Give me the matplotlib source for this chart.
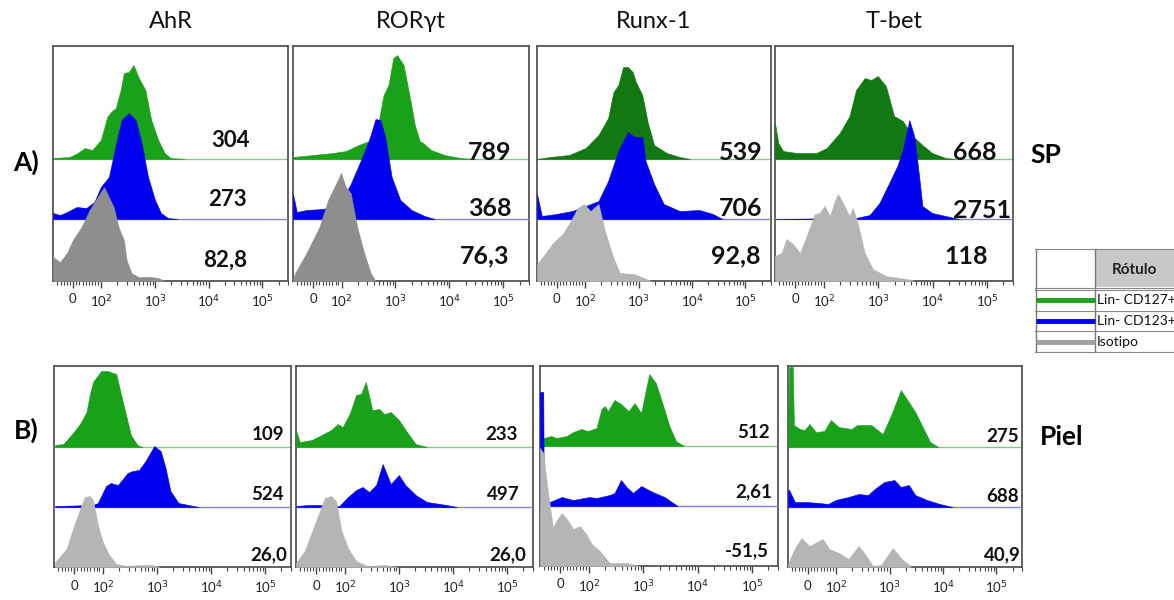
import numpy as np
import matplotlib
matplotlib.use("Agg")
import matplotlib.pyplot as plt

plt.rcParams['font.family'] = ['Lato', 'DejaVu Sans']

# ---- labels ----
markers = ["AhR", "RORγt", "Runx-1", "T-bet"]
row_tags = ["A)", "B)"]
tissues = ["SP", "Piel"]
series = ["Lin- CD127+", "Lin- CD123+", "Isotipo"]

# MFI per panel, order: CD127+, CD123+, isotipo
mfi_sp = [["304", "273", "82,8"], ["789", "368", "76,3"],
          ["539", "706", "92,8"], ["668", "2751", "118"]]
mfi_piel = [["109", "524", "26,0"], ["233", "497", "26,0"],
            ["512", "2,61", "-51,5"], ["275", "688", "40,9"]]

# ---- histograms: x = log10 display channel, y = normalised counts ----
# SP row
ahr_sp_127_x = [1.10, 1.41, 1.56, 1.69, 1.83, 1.99, 2.11, 2.18, 2.27, 2.36, 2.42, 2.51, 2.60, 2.69, 2.82, 2.93, 3.06, 3.18, 3.29, 3.55]
ahr_sp_127_y = [1, 2, 6, 11, 9, 19, 42, 47, 51, 69, 86, 87, 94, 82, 69, 39, 19, 6, 1, 0]
ahr_sp_123_x = [1.10, 1.23, 1.36, 1.54, 1.72, 1.87, 1.99, 2.14, 2.29, 2.38, 2.51, 2.64, 2.75, 2.87, 3.00, 3.11, 3.24, 3.42]
ahr_sp_123_y = [6, 4, 7, 12, 11, 17, 32, 42, 79, 99, 106, 99, 76, 42, 19, 6, 1, 0]
ahr_sp_iso_x = [1.10, 1.23, 1.36, 1.47, 1.63, 1.78, 1.90, 1.99, 2.05, 2.14, 2.23, 2.32, 2.42, 2.47, 2.56, 2.69, 2.93, 3.06, 3.18]
ahr_sp_iso_y = [24, 19, 28, 41, 54, 71, 81, 89, 94, 84, 74, 54, 41, 21, 8, 4, 4, 3, 0]

ror_sp_127_x = [1.10, 1.47, 1.84, 2.08, 2.32, 2.51, 2.69, 2.78, 2.87, 2.96, 3.03, 3.15, 3.27, 3.36, 3.45, 3.51, 3.66, 3.91, 4.21, 4.50]
ror_sp_127_y = [2, 4, 6, 8, 14, 18, 38, 64, 74, 101, 104, 94, 61, 34, 18, 16, 9, 4, 1, 0]
ror_sp_123_x = [1.10, 1.17, 1.35, 1.65, 1.96, 2.17, 2.36, 2.51, 2.63, 2.72, 2.81, 2.93, 3.09, 3.30, 3.54, 3.73]
ror_sp_123_y = [25, 7, 9, 10, 14, 35, 59, 79, 100, 99, 82, 42, 19, 9, 3, 0]
ror_sp_iso_x = [1.10, 1.14, 1.35, 1.59, 1.75, 1.87, 1.99, 2.08, 2.17, 2.29, 2.42, 2.54, 2.63]
ror_sp_iso_y = [2, 8, 28, 54, 81, 94, 108, 94, 88, 54, 28, 8, 0]

runx_sp_127_x = [1.10, 1.34, 1.70, 2.01, 2.25, 2.43, 2.53, 2.62, 2.71, 2.80, 2.89, 2.95, 3.07, 3.17, 3.29, 3.53, 3.77, 3.96]
runx_sp_127_y = [0, 2, 4, 11, 24, 41, 67, 74, 92, 92, 87, 77, 64, 37, 14, 6, 2, 0]
runx_sp_123_x = [1.10, 1.19, 1.46, 1.76, 2.01, 2.25, 2.43, 2.62, 2.80, 2.92, 3.07, 3.13, 3.29, 3.47, 3.77, 4.14, 4.39, 4.57]
runx_sp_123_y = [25, 3, 5, 8, 13, 18, 38, 68, 87, 82, 82, 58, 35, 15, 8, 9, 5, 0]
runx_sp_iso_x = [1.10, 1.25, 1.40, 1.58, 1.73, 1.86, 1.98, 2.10, 2.25, 2.37, 2.53, 2.65, 2.92, 3.23]
runx_sp_iso_y = [17, 27, 38, 47, 60, 73, 77, 70, 77, 50, 23, 8, 7, 0]

tbet_sp_127_x = [1.10, 1.16, 1.25, 1.50, 1.86, 2.05, 2.29, 2.47, 2.59, 2.75, 2.87, 2.99, 3.14, 3.29, 3.45, 3.63, 3.81, 3.99, 4.24, 4.42]
tbet_sp_127_y = [36, 16, 8, 6, 6, 11, 26, 43, 69, 81, 79, 83, 73, 43, 38, 23, 14, 6, 1, 0]
tbet_sp_123_x = [1.10, 2.59, 2.84, 3.02, 3.20, 3.35, 3.45, 3.57, 3.66, 3.75, 3.81, 3.99, 4.24, 4.48]
tbet_sp_123_y = [0, 1, 4, 16, 36, 53, 69, 99, 83, 43, 13, 6, 3, 0]
tbet_sp_iso_x = [1.10, 1.22, 1.31, 1.43, 1.56, 1.68, 1.83, 1.92, 2.01, 2.11, 2.20, 2.26, 2.35, 2.47, 2.53, 2.62, 2.75, 2.90, 3.14, 3.63]
tbet_sp_iso_y = [25, 28, 42, 37, 28, 45, 67, 68, 75, 65, 80, 87, 78, 65, 73, 58, 28, 12, 5, 1]

# Piel row
ahr_pi_127_x = [1.12, 1.27, 1.42, 1.58, 1.70, 1.76, 1.82, 1.97, 2.09, 2.25, 2.34, 2.43, 2.52, 2.64, 2.73]
ahr_pi_127_y = [2, 3, 12, 23, 35, 52, 65, 76, 76, 73, 52, 32, 12, 2, 0]
ahr_pi_123_x = [1.12, 1.82, 1.91, 2.06, 2.15, 2.28, 2.46, 2.55, 2.67, 2.79, 2.95, 3.07, 3.16, 3.25, 3.40, 3.77]
ahr_pi_123_y = [1, 2, 4, 21, 24, 22, 34, 36, 37, 46, 61, 56, 39, 16, 4, 0]
ahr_pi_iso_x = [1.12, 1.33, 1.45, 1.58, 1.67, 1.76, 1.82, 1.91, 2.00, 2.12, 2.25, 2.43, 2.67, 2.92, 3.04]
ahr_pi_iso_y = [5, 18, 38, 58, 70, 71, 67, 42, 25, 12, 3, 1, 2, 2, 0]

ror_pi_127_x = [1.10, 1.17, 1.39, 1.57, 1.75, 1.87, 1.96, 2.09, 2.21, 2.30, 2.39, 2.51, 2.64, 2.73, 2.85, 3.00, 3.15, 3.31, 3.52]
ror_pi_127_y = [17, 5, 7, 12, 17, 23, 20, 33, 52, 53, 65, 37, 38, 33, 35, 27, 15, 3, 0]
ror_pi_123_x = [1.10, 1.32, 1.57, 1.90, 2.06, 2.21, 2.33, 2.45, 2.58, 2.70, 2.85, 3.00, 3.12, 3.31, 3.52, 3.88, 4.07]
ror_pi_123_y = [1, 2, 2, 1, 10, 17, 20, 15, 22, 43, 23, 32, 22, 12, 5, 2, 0]
ror_pi_iso_x = [1.10, 1.26, 1.42, 1.54, 1.63, 1.75, 1.84, 1.94, 2.06, 2.21, 2.42, 2.73, 2.97]
ror_pi_iso_y = [4, 16, 39, 56, 69, 71, 66, 36, 19, 6, 1, 2, 0]

runx_pi_127_x = [1.10, 1.16, 1.31, 1.40, 1.59, 1.71, 1.86, 1.98, 2.14, 2.23, 2.29, 2.35, 2.47, 2.59, 2.73, 2.84, 2.96, 3.05, 3.11, 3.23, 3.35, 3.48, 3.60, 3.75]
runx_pi_127_y = [6, 8, 10, 8, 10, 14, 17, 15, 18, 37, 40, 35, 46, 42, 35, 43, 33, 57, 72, 63, 43, 20, 5, 0]
runx_pi_123_x = [1.10, 1.16, 1.17, 1.28, 1.50, 1.71, 2.01, 2.14, 2.38, 2.47, 2.59, 2.69, 2.81, 2.96, 3.17, 3.39, 3.63]
runx_pi_123_y = [114, 114, 4, 4, 9, 6, 9, 8, 11, 13, 26, 19, 13, 20, 14, 9, 0]
runx_pi_iso_x = [1.10, 1.16, 1.25, 1.34, 1.40, 1.50, 1.62, 1.71, 1.83, 1.95, 2.05, 2.20, 2.38, 2.69, 2.93]
runx_pi_iso_y = [118, 113, 72, 38, 45, 53, 45, 37, 40, 32, 22, 15, 3, 3, 0]

tbet_pi_127_x = [1.10, 1.12, 1.19, 1.21, 1.32, 1.41, 1.50, 1.62, 1.78, 1.90, 2.05, 2.29, 2.39, 2.66, 2.87, 3.03, 3.21, 3.36, 3.48, 3.60, 3.76, 3.91]
tbet_pi_127_y = [0, 80, 80, 22, 18, 17, 23, 15, 16, 27, 20, 18, 22, 22, 13, 32, 57, 45, 35, 22, 5, 0]
tbet_pi_123_x = [1.10, 1.12, 1.23, 1.44, 1.69, 1.85, 1.99, 2.23, 2.42, 2.60, 2.72, 2.90, 3.09, 3.21, 3.36, 3.48, 3.70, 3.94, 4.18]
tbet_pi_123_y = [17, 17, 5, 5, 4, 3, 7, 10, 13, 12, 18, 25, 27, 20, 22, 12, 7, 3, 0]
tbet_pi_iso_x = [1.10, 1.14, 1.23, 1.35, 1.50, 1.75, 1.87, 2.05, 2.23, 2.42, 2.54, 2.69, 2.84, 3.06, 3.21, 3.39]
tbet_pi_iso_y = [2, 8, 19, 29, 21, 28, 18, 14, 8, 21, 13, 1, 2, 19, 9, 1]

sp_hists = [
    [(ahr_sp_127_x, ahr_sp_127_y), (ahr_sp_123_x, ahr_sp_123_y), (ahr_sp_iso_x, ahr_sp_iso_y)],
    [(ror_sp_127_x, ror_sp_127_y), (ror_sp_123_x, ror_sp_123_y), (ror_sp_iso_x, ror_sp_iso_y)],
    [(runx_sp_127_x, runx_sp_127_y), (runx_sp_123_x, runx_sp_123_y), (runx_sp_iso_x, runx_sp_iso_y)],
    [(tbet_sp_127_x, tbet_sp_127_y), (tbet_sp_123_x, tbet_sp_123_y), (tbet_sp_iso_x, tbet_sp_iso_y)],
]
piel_hists = [
    [(ahr_pi_127_x, ahr_pi_127_y), (ahr_pi_123_x, ahr_pi_123_y), (ahr_pi_iso_x, ahr_pi_iso_y)],
    [(ror_pi_127_x, ror_pi_127_y), (ror_pi_123_x, ror_pi_123_y), (ror_pi_iso_x, ror_pi_iso_y)],
    [(runx_pi_127_x, runx_pi_127_y), (runx_pi_123_x, runx_pi_123_y), (runx_pi_iso_x, runx_pi_iso_y)],
    [(tbet_pi_127_x, tbet_pi_127_y), (tbet_pi_123_x, tbet_pi_123_y), (tbet_pi_iso_x, tbet_pi_iso_y)],
]

# axis ticks (display channel positions)
tick_pos = [1.47, 2, 3, 4, 5]
tick_lab = ["0", "10$^2$", "10$^3$", "10$^4$", "10$^5$"]

# ---- style / layout ----
W, H = 1174, 600
green = "#1aa11a"
dkgreen = "#127812"
blue = "#0000f0"
gray_dk = "#8e8e8e"
gray_lt = "#b5b5b5"

fig = plt.figure(figsize=(W / 100, H / 100), dpi=100)


def px_axes(l, t, r, b):
    return fig.add_axes([l / W, 1 - b / H, (r - l) / W, (b - t) / H])


rows = [
    dict(boxes=[(53, 46, 288, 281), (293, 46, 529, 281), (537, 46, 771, 281), (775, 46, 1013, 281)],
         hists=sp_hists, mfi=mfi_sp, offs=[122, 62, 0],
         greens=[green, green, dkgreen, dkgreen], grays=[gray_dk, gray_dk, gray_lt, gray_lt],
         fs=[16, 18, 18, 18],
         lab_xy=[[(230, 140), (227, 200), (225, 260)],
                 [(490, 152), (490, 208), (485, 256)],
                 [(741, 153), (741, 208), (736, 256)],
                 [(975, 153), (982, 210), (966, 257)]]),
    dict(boxes=[(54, 366, 291, 567), (296, 366, 533, 567), (540, 366, 778, 566), (788, 366, 1022, 567)],
         hists=piel_hists, mfi=mfi_piel, offs=[120, 60, 0],
         greens=[green] * 4, grays=[gray_lt] * 4,
         fs=[13.5] * 4,
         lab_xy=[[(268, 435), (268, 495), (269, 555)],
                 [(501, 435), (503, 495), (508, 555)],
                 [(753, 432), (754, 492), (747, 551)],
                 [(1003, 436), (1003, 496), (1002, 555)]]),
]

minor_ticks = [1.17, 1.24, 1.30, 1.36, 1.41, 1.53, 1.59, 1.65, 1.71, 1.77, 1.83, 1.89, 1.94]
for d in (2, 3, 4):
    minor_ticks += [d + np.log10(k) for k in range(2, 10)]
minor_ticks += [5 + np.log10(2), 5 + np.log10(3)]

for row in rows:
    for j, box in enumerate(row["boxes"]):
        l, t, r, b = box
        ax = px_axes(l, t, r, b)
        ax.set_xlim(1.1, 1.1 + (r - l) / 54.7)
        ax.set_ylim(0, b - t)
        cols = [row["greens"][j], blue, row["grays"][j]]
        base_cols = ["#80cc80", "#8080ff", None]
        for k, (hx, hy) in enumerate(row["hists"][j]):
            off = row["offs"][k]
            if base_cols[k]:
                ax.axhline(off, color=base_cols[k], lw=1.0, zorder=2 + 2 * k)
            ax.fill_between(hx, off, np.array(hy) + off, color=cols[k], lw=0.4,
                            edgecolor=cols[k], zorder=3 + 2 * k)
        ax.set_yticks([])
        ax.set_xticks(tick_pos)
        ax.set_xticklabels(tick_lab, fontsize=9.5, color="#222222")
        ax.set_xticks(minor_ticks, minor=True)
        ax.tick_params(axis="x", which="major", length=5, width=1, color="#444444", pad=4)
        ax.tick_params(axis="x", which="minor", length=3, width=0.8, color="#444444")
        for s in ax.spines.values():
            s.set_color("#555555")
            s.set_linewidth(1.3)
        for k, txt in enumerate(row["mfi"][j]):
            x, y = row["lab_xy"][j][k]
            fig.text(x / W, 1 - y / H, txt, ha="center", va="center",
                     fontsize=row["fs"][j], fontweight="bold", color="#111111")

# column titles
for j, name in enumerate(markers):
    l, t, r, b = rows[0]["boxes"][j]
    fig.text((l + r) / 2 / W, 1 - 22 / H, name, ha="center", va="center", fontsize=17, color="#111111")

# row tags and tissue names
fig.text(26 / W, 1 - 162 / H, row_tags[0], ha="center", va="center", fontsize=19, fontweight="bold")
fig.text(26 / W, 1 - 430 / H, row_tags[1], ha="center", va="center", fontsize=19, fontweight="bold")
fig.text(1046 / W, 1 - 155 / H, tissues[0], ha="center", va="center", fontsize=19, fontweight="bold")
fig.text(1062 / W, 1 - 437 / H, tissues[1], ha="center", va="center", fontsize=19, fontweight="bold")

# legend table (drawn in pixel coords)
lg = px_axes(1035, 249, 1174, 353)
lg.set_xlim(1035, 1174)
lg.set_ylim(353, 249)
lg.axis("off")
lg.add_patch(plt.Rectangle((1096, 250.5), 90, 37, facecolor="#c8c8c8", edgecolor="none"))
lg.plot([1035.5, 1035.5], [249, 352], color="#777777", lw=1, clip_on=False)
lg.plot([1095, 1095], [249, 352], color="#777777", lw=1, clip_on=False)
for yy in (249.5, 288, 290, 311, 331, 352):
    lg.plot([1035, 1180], [yy, yy], color="#888888", lw=0.8, clip_on=False)
lg.text(1112, 270, "Rótulo", ha="left", va="center", fontsize=11, fontweight="bold", color="#222222")
leg_cols = [green, blue, "#a0a0a0"]
for k, name in enumerate(series):
    yy = 300.5 + 21 * k
    lg.plot([1036, 1095], [yy, yy], color=leg_cols[k], lw=3.5, solid_capstyle="butt")
    lg.text(1097, yy, name, ha="left", va="center", fontsize=10, color="#111111", clip_on=False)

fig.savefig("out.png", dpi=100, facecolor="white")
